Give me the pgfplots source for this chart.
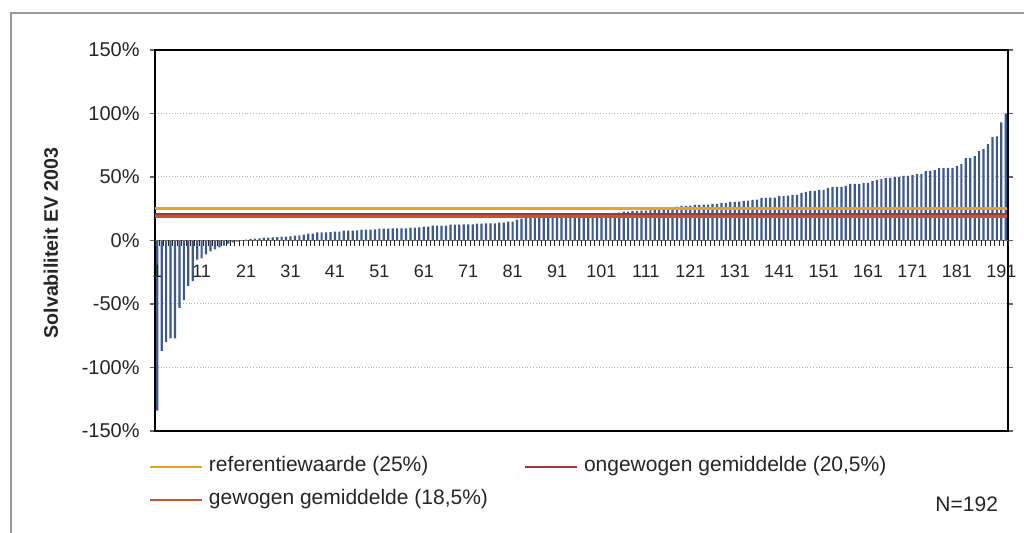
\documentclass[border=0pt]{standalone}
\usepackage{fontspec}
\setmainfont{Liberation Sans}
\usepackage{pgfplots}
\pgfplotsset{compat=1.18}
\usepackage{pgfplotstable}

\definecolor{barblue}{RGB}{60,90,140}
\definecolor{refcol}{RGB}{232,160,40}
\definecolor{ongcol}{RGB}{160,55,55}
\definecolor{gewcol}{RGB}{200,85,45}

\pgfplotstableread{
idx val
1 -134
2 -87
3 -80
4 -77
5 -77
6 -53
7 -47
8 -36
9 -32
10 -15
11 -14
12 -11
13 -8.5
14 -7
15 -5.5
16 -4
17 -2.5
18 -1.5
19 -0.8
20 -0.4
21 0.6
22 1.3
23 1.5
24 1.6
25 2.3
26 2.3
27 2.4
28 2.6
29 3
30 3.1
31 3.2
32 3.9
33 4
34 4.7
35 5.5
36 5.5
37 6.3
38 6.3
39 6.4
40 6.5
41 7
42 7
43 7.8
44 7.8
45 7.8
46 7.9
47 8.6
48 8.6
49 8.6
50 8.7
51 9.4
52 9.4
53 9.4
54 9.5
55 9.5
56 9.6
57 9.6
58 10.2
59 10.2
60 10.3
61 10.9
62 11
63 11.7
64 11.7
65 11.8
66 11.8
67 12.5
68 12.5
69 12.5
70 12.6
71 12.6
72 12.7
73 13.3
74 13.3
75 13.4
76 13.4
77 13.5
78 14
79 14.1
80 14.8
81 14.9
82 16.4
83 17.2
84 18
85 18.2
86 18.4
87 18.6
88 18.8
89 19
90 19.2
91 19.4
92 19.6
93 19.8
94 20
95 20.2
96 20.4
97 20.6
98 20.8
99 21
100 21.1
101 21.3
102 21.4
103 21.6
104 21.8
105 21.9
106 22.7
107 22.7
108 23.4
109 23.4
110 23.5
111 23.5
112 24.2
113 24.2
114 24.5
115 24.8
116 25
117 25.5
118 26.6
119 27.3
120 27.3
121 27.4
122 28.1
123 28.1
124 28.2
125 28.2
126 28.9
127 28.9
128 29.7
129 29.7
130 30.5
131 30.5
132 30.6
133 31.2
134 31.3
135 32
136 32.1
137 33.6
138 33.6
139 33.7
140 33.7
141 35.2
142 35.2
143 35.3
144 35.9
145 36
146 37.5
147 38.3
148 39
149 39.1
150 39.8
151 39.9
152 41.4
153 42.2
154 42.2
155 42.3
156 43
157 44.5
158 44.5
159 44.6
160 45.3
161 45.4
162 46.9
163 47.7
164 48.4
165 49.2
166 49.3
167 50
168 50.1
169 50.8
170 50.9
171 51.6
172 52.3
173 52.4
174 54.7
175 54.8
176 55.5
177 57
178 57
179 57.1
180 57.2
181 58.6
182 60.2
183 64.8
184 64.9
185 66.4
186 70.3
187 71.9
188 75.8
189 81.3
190 82
191 93
192 100
}\soltable

\begin{document}
\begin{tikzpicture}
\useasboundingbox (0,0) rectangle (512pt,266.5pt);
\fill[white] (0,0) rectangle (512pt,266.5pt);
\draw[gray!80, line width=0.6pt] (5.5pt,0pt) -- (5.5pt,260pt) -- (512pt,260pt);

\begin{axis}[
  at={(77.5pt,51pt)}, anchor=south west,
  scale only axis, width=426.5pt, height=190.5pt,
  xmin=0.5, xmax=192.5, ymin=-150, ymax=150,
  xtick=\empty,
  ytick={-150,-100,-50,0,50,100,150},
  yticklabels={-150\%,-100\%,-50\%,0\%,50\%,100\%,150\%},
  ymajorgrids, grid style={densely dotted, gray!60, line width=0.5pt},
  axis line style={black, line width=1.2pt},
  ytick style={gray!80!black, line width=0.6pt},
  tick align=outside, major tick length=2.5pt,
  yticklabel style={font=\fontsize{10}{12}\selectfont, text=black!85, inner sep=0pt, xshift=-5pt},
  legend columns=2,
  legend cell align=left,
  legend image code/.code={\draw[#1, line width=1pt] (0pt,0pt) -- (26pt,0pt);},
  legend style={
    at={(-0.00703,-0.0682)}, anchor=north west,
    draw=none, fill=none, inner sep=0pt, outer sep=0pt,
    row sep=6.5pt,
    nodes={inner sep=0pt, text height=7.5pt, text depth=2.5pt, font=\fontsize{10.5}{12}\selectfont, text=black!85},
    /tikz/every odd column/.append style={column sep=3pt},
    /tikz/every even column/.append style={column sep=18pt},
  },
]
\addplot[ybar, bar width=1.1pt, bar shift=0pt, fill=barblue, draw=none, forget plot] table[x=idx, y=val] {\soltable};
\addplot[refcol, line width=1.5pt] coordinates {(0.6,25) (192.3,25)};
\addlegendentry{referentiewaarde (25\%)}
\addplot[ongcol, line width=1.5pt] coordinates {(0.6,20.5) (192.3,20.5)};
\addlegendentry{ongewogen gemiddelde (20,5\%)}
\addplot[gewcol, line width=1.5pt] coordinates {(0.6,18.5) (192.3,18.5)};
\addlegendentry{gewogen gemiddelde (18,5\%)}
\end{axis}

\begin{axis}[
  at={(77.5pt,51pt)}, anchor=south west,
  scale only axis, width=426.5pt, height=190.5pt,
  xmin=0.5, xmax=192.5, ymin=-150, ymax=150,
  axis x line=middle, axis y line=none,
  x axis line style={-, gray!90!black, line width=0.7pt},
  xtick={1,11,21,31,41,51,61,71,81,91,101,111,121,131,141,151,161,171,181,191},
  xticklabels={1,11,21,31,41,51,61,71,81,91,101,111,121,131,141,151,161,171,181,191},
  major tick length=0pt,
  xticklabel style={font=\fontsize{9}{11}\selectfont, text=black!85, anchor=base, inner sep=0pt, yshift=-18.5pt},
  extra x ticks={0.5,1.5,...,192.5},
  extra x tick labels={},
  extra x tick style={major tick length=3pt, tick align=outside, xtick style={gray!30!black, line width=0.5pt}},
]
\end{axis}

\node[rotate=90, font=\bfseries\fontsize{9.8}{12}\selectfont, text=black!85] at (25.5pt,145pt) {Solvabiliteit EV 2003};
\node[anchor=east, font=\fontsize{10.5}{12}\selectfont, text=black!85] at (502.5pt,14.5pt) {N=192};
\end{tikzpicture}
\end{document}
